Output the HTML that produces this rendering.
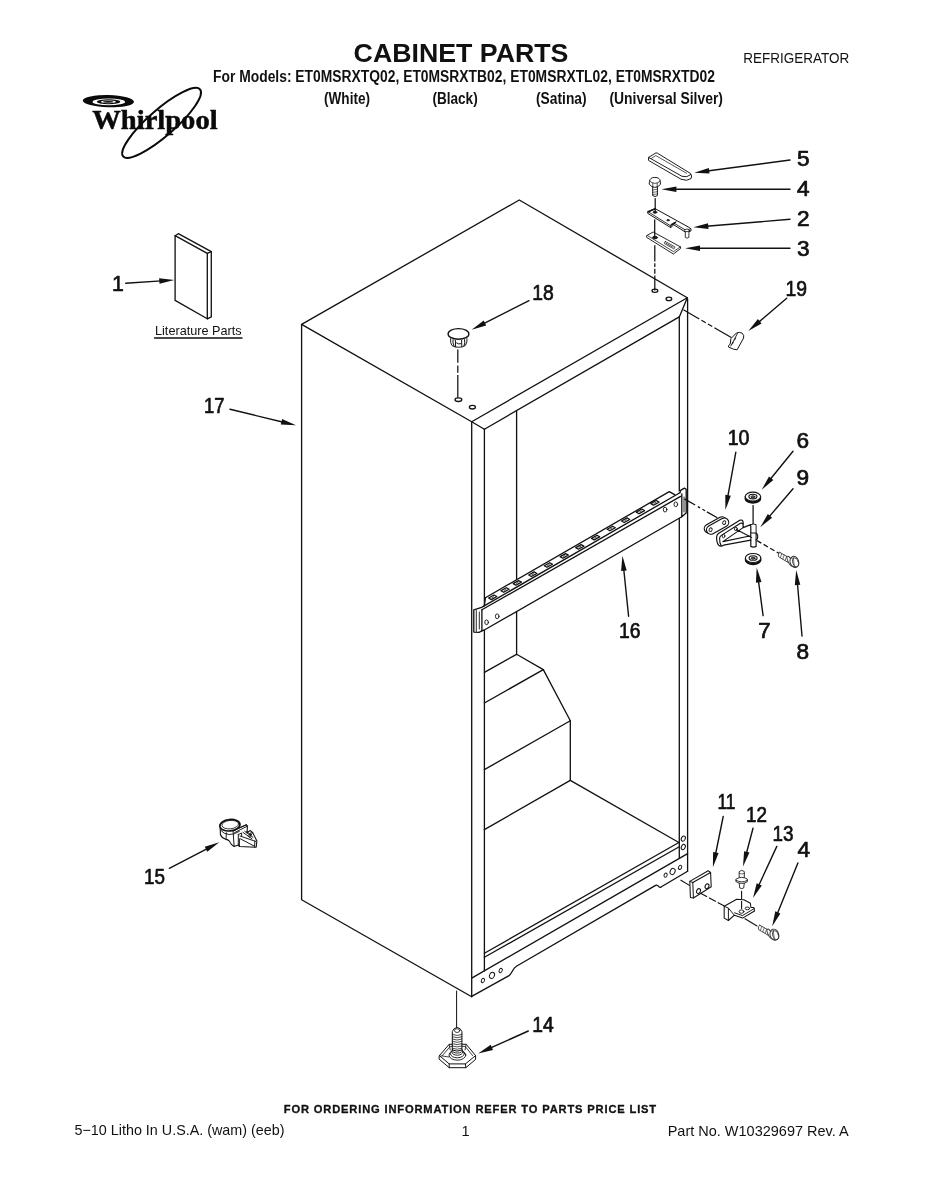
<!DOCTYPE html>
<html lang="en"><head><meta charset="utf-8"><title>Cabinet Parts</title>
<style>
html,body{margin:0;padding:0;background:#fff;}
body{width:927px;height:1200px;overflow:hidden;position:relative;font-family:"Liberation Sans",sans-serif;}
svg{position:absolute;left:0;top:0;display:block;will-change:transform;opacity:0.999}
svg text{font-family:"Liberation Sans",sans-serif;fill:#111;stroke:none}
.lb{font-family:"Liberation Sans",sans-serif;stroke:#111 !important;stroke-width:0.7px;}
</style></head><body>
<svg width="927" height="1200" viewBox="0 0 927 1200" fill="none" stroke="#111" stroke-linecap="round" stroke-linejoin="round">
<text x="353.6" y="61.5" font-size="26" font-weight="bold" textLength="214.8" lengthAdjust="spacingAndGlyphs">CABINET PARTS</text>
<text x="743.3" y="62.6" font-size="13.9" textLength="106" lengthAdjust="spacingAndGlyphs">REFRIGERATOR</text>
<text x="213" y="82.4" font-size="16.8" font-weight="bold" textLength="502" lengthAdjust="spacingAndGlyphs">For Models: ET0MSRXTQ02, ET0MSRXTB02, ET0MSRXTL02, ET0MSRXTD02</text>
<text x="324" y="103.5" font-size="16.8" font-weight="bold" textLength="46" lengthAdjust="spacingAndGlyphs">(White)</text>
<text x="432.4" y="103.5" font-size="16.8" font-weight="bold" textLength="45.3" lengthAdjust="spacingAndGlyphs">(Black)</text>
<text x="536" y="103.5" font-size="16.8" font-weight="bold" textLength="50.6" lengthAdjust="spacingAndGlyphs">(Satina)</text>
<text x="609.4" y="103.5" font-size="16.8" font-weight="bold" textLength="113.6" lengthAdjust="spacingAndGlyphs">(Universal Silver)</text>
<text x="283.8" y="1112.7" font-size="10.6" font-weight="bold" textLength="373.2" lengthAdjust="spacingAndGlyphs" letter-spacing="0.8" style="stroke:#111;stroke-width:0.3px">FOR ORDERING INFORMATION REFER TO PARTS PRICE LIST</text>
<text x="74.5" y="1135.4" font-size="14.6" textLength="210" lengthAdjust="spacingAndGlyphs">5&#8722;10 Litho In U.S.A. (wam) (eeb)</text>
<text x="461.6" y="1135.5" font-size="14.6">1</text>
<text x="667.7" y="1135.5" font-size="14.6" textLength="181" lengthAdjust="spacingAndGlyphs">Part No. W10329697 Rev. A</text>
<path d="M301.6 324.4 L519.3 200 L687.3 297.8 L471.7 421.7 Z" fill="none" stroke-width="1.32" />
<path d="M301.6 324.4 L301.6 899.7 L471.7 996.7" fill="none" stroke-width="1.32" />
<line x1="471.7" y1="421.7" x2="471.7" y2="996.7" stroke-width="1.32" />
<line x1="471.7" y1="421.7" x2="484.4" y2="429.2" stroke-width="1.32" />
<line x1="687.3" y1="297.8" x2="679.3" y2="316.9" stroke-width="1.32" />
<line x1="484.4" y1="429.2" x2="679.3" y2="316.9" stroke-width="1.32" />
<line x1="484.4" y1="429.2" x2="484.4" y2="970.8" stroke-width="1.32" />
<line x1="516.6" y1="410.8" x2="516.6" y2="654.3" stroke-width="1.32" />
<line x1="679.3" y1="316.9" x2="679.3" y2="858.2" stroke-width="1.32" />
<line x1="687.6" y1="299" x2="687.6" y2="871.3" stroke-width="1.32" />
<line x1="484.4" y1="672.3" x2="516.6" y2="654.3" stroke-width="1.32" />
<line x1="516.6" y1="654.3" x2="543.3" y2="669.6" stroke-width="1.32" />
<line x1="543.3" y1="669.6" x2="484.4" y2="703" stroke-width="1.32" />
<line x1="543.3" y1="669.6" x2="570.3" y2="720.8" stroke-width="1.32" />
<line x1="570.3" y1="720.8" x2="484.4" y2="769.6" stroke-width="1.32" />
<line x1="570.3" y1="720.8" x2="570.3" y2="780.4" stroke-width="1.32" />
<line x1="570.3" y1="780.4" x2="484.4" y2="829.6" stroke-width="1.32" />
<line x1="570.3" y1="780.4" x2="679.3" y2="842.7" stroke-width="1.32" />
<line x1="484.4" y1="953.3" x2="679.3" y2="842.3" stroke-width="1.32" />
<line x1="484.4" y1="957.3" x2="679.3" y2="846.7" stroke-width="1.32" />
<path d="M471.7 996.4 L508.6 975.9 C512 974 512.4 968.6 516.4 966.3 L655.6 885.4 Q657.4 884.6 658.6 886.4 Q659.6 887.8 661.4 886.8 L687.6 871.3" fill="none" stroke-width="1.32" />
<line x1="471.7" y1="978.1" x2="687.6" y2="853.6" stroke-width="1.32" />
<ellipse cx="482.9" cy="980.5" rx="1.5" ry="2.2" fill="none" stroke-width="0.95" transform="rotate(25 482.9 980.5)" />
<ellipse cx="492" cy="975.4" rx="2.4" ry="3.2" fill="none" stroke-width="0.95" transform="rotate(25 492 975.4)" />
<ellipse cx="500.7" cy="970.5" rx="1.5" ry="2.2" fill="none" stroke-width="0.95" transform="rotate(25 500.7 970.5)" />
<ellipse cx="665.6" cy="875.2" rx="1.5" ry="2.2" fill="none" stroke-width="0.95" transform="rotate(25 665.6 875.2)" />
<ellipse cx="672.6" cy="871.5" rx="2.4" ry="3.2" fill="none" stroke-width="0.95" transform="rotate(25 672.6 871.5)" />
<ellipse cx="680.1" cy="867.3" rx="1.5" ry="2.2" fill="none" stroke-width="0.95" transform="rotate(25 680.1 867.3)" />
<ellipse cx="683.3" cy="838.6" rx="1.9" ry="2.7" fill="none" stroke-width="1.0" transform="rotate(25 683.3 838.6)" />
<ellipse cx="683.3" cy="847.0" rx="1.9" ry="2.7" fill="none" stroke-width="1.0" transform="rotate(25 683.3 847.0)" />
<ellipse cx="458.4" cy="399.7" rx="3.4" ry="1.8" fill="none" stroke-width="1.32" />
<ellipse cx="472.4" cy="407.2" rx="3.0" ry="1.8" fill="none" stroke-width="1.32" />
<ellipse cx="654.9" cy="290.8" rx="2.9" ry="1.6" fill="none" stroke-width="1.32" />
<ellipse cx="668.9" cy="298.9" rx="2.8" ry="1.7" fill="none" stroke-width="1.32" />
<path d="M485.4 597.8 L669.3 491.6 L674.6 494.6 L680.6 490.4 L684.4 488.1 L686.2 489.2 L686.2 513 L681.8 516.8 L483.9 630.2 L480 632.3 L473.8 632.1 L473.8 609.8 L481.6 607.5 L484.2 605.8 Z" fill="#fff" stroke-width="0" stroke="none"/>
<path d="M485.4 597.8 L669.3 491.6 L674.6 494.6" fill="none" stroke-width="1.32" />
<line x1="485.4" y1="597.8" x2="484.4" y2="605.6" stroke-width="1.32" />
<line x1="484.2" y1="605.9" x2="679.9" y2="492.7" stroke-width="1.32" />
<line x1="481.9" y1="609.8" x2="680.6" y2="496.4" stroke-width="1.32" />
<line x1="483.9" y1="630.2" x2="681.8" y2="516.8" stroke-width="1.32" />
<path d="M481.9 609.8 L481.9 630.8 L479 632.3 L473.8 632.1 L473.8 609.8 L481.6 607.4 L484.2 605.9" fill="none" stroke-width="1.32" />
<line x1="476.3" y1="610.5" x2="476.3" y2="631.5" stroke-width="0.9" />
<line x1="479.3" y1="612" x2="479.3" y2="629" stroke-width="0.9" />
<line x1="483.9" y1="630.2" x2="481.9" y2="630.8" stroke-width="1.32" />
<path d="M679.9 492.7 L680.6 490.4 L684.4 488.1 L686.2 489.2 L686.2 513 L681.8 516.8 L681.8 494" fill="none" stroke-width="1.32" />
<line x1="684" y1="497" x2="684" y2="512" stroke-width="0.9" />
<ellipse cx="486.6" cy="622.3" rx="1.8" ry="2.4" fill="none" stroke-width="0.9" />
<ellipse cx="497.2" cy="616.3" rx="1.8" ry="2.4" fill="none" stroke-width="0.9" />
<ellipse cx="665.1" cy="509.6" rx="1.8" ry="2.4" fill="none" stroke-width="0.9" />
<ellipse cx="675.8" cy="504.3" rx="1.8" ry="2.4" fill="none" stroke-width="0.9" />
<path d="M488.6 598.0 L494.0 595.0 L496.8 596.5 L491.4 599.6 Z" fill="none" stroke-width="1.25" />
<line x1="491.8" y1="597.8" x2="493.6" y2="596.8" stroke-width="0.7" />
<path d="M500.9 590.8 L506.3 587.7 L509.1 589.2 L503.7 592.3 Z" fill="none" stroke-width="1.25" />
<line x1="504.1" y1="590.5" x2="505.9" y2="589.5" stroke-width="0.7" />
<path d="M513.2 583.6 L518.6 580.6 L521.4 582.1 L515.9 585.2 Z" fill="none" stroke-width="1.25" />
<line x1="516.4" y1="583.4" x2="518.2" y2="582.4" stroke-width="0.7" />
<path d="M528.7 575.0 L534.1 571.9 L536.9 573.5 L531.4 576.5 Z" fill="none" stroke-width="1.25" />
<line x1="531.9" y1="574.7" x2="533.7" y2="573.7" stroke-width="0.7" />
<path d="M544.3 565.8 L549.8 562.7 L552.5 564.2 L547.0 567.3 Z" fill="none" stroke-width="1.25" />
<line x1="547.5" y1="565.5" x2="549.3" y2="564.5" stroke-width="0.7" />
<path d="M560.1 556.6 L565.6 553.6 L568.3 555.1 L562.9 558.2 Z" fill="none" stroke-width="1.25" />
<line x1="563.3" y1="556.4" x2="565.1" y2="555.4" stroke-width="0.7" />
<path d="M575.7 547.6 L581.1 544.6 L583.9 546.1 L578.4 549.2 Z" fill="none" stroke-width="1.25" />
<line x1="578.9" y1="547.4" x2="580.7" y2="546.4" stroke-width="0.7" />
<path d="M591.5 538.4 L597.0 535.3 L599.7 536.9 L594.2 539.9 Z" fill="none" stroke-width="1.25" />
<line x1="594.7" y1="538.1" x2="596.5" y2="537.1" stroke-width="0.7" />
<path d="M607.1 529.2 L612.6 526.2 L615.3 527.8 L609.9 530.8 Z" fill="none" stroke-width="1.25" />
<line x1="610.3" y1="529.0" x2="612.1" y2="528.0" stroke-width="0.7" />
<path d="M621.5 521.0 L627.0 517.9 L629.7 519.5 L624.2 522.5 Z" fill="none" stroke-width="1.25" />
<line x1="624.7" y1="520.7" x2="626.5" y2="519.7" stroke-width="0.7" />
<path d="M636.3 512.1 L641.8 509.0 L644.5 510.6 L639.0 513.7 Z" fill="none" stroke-width="1.25" />
<line x1="639.5" y1="511.9" x2="641.3" y2="510.9" stroke-width="0.7" />
<path d="M650.8 503.6 L656.2 500.5 L659.0 502.1 L653.5 505.2 Z" fill="none" stroke-width="1.25" />
<line x1="654.0" y1="503.4" x2="655.8" y2="502.4" stroke-width="0.7" />
<text x="112" y="290.8" font-size="21.3" class="lb">1</text>
<text x="204" y="413.0" font-size="21.3" class="lb" textLength="20.5" lengthAdjust="spacingAndGlyphs">17</text>
<text x="532.3" y="300.2" font-size="21.3" class="lb" textLength="21.5" lengthAdjust="spacingAndGlyphs">18</text>
<text x="796.9" y="165.5" font-size="21.3" class="lb" textLength="12.6" lengthAdjust="spacingAndGlyphs">5</text>
<text x="796.9" y="196.4" font-size="21.3" class="lb" textLength="12.6" lengthAdjust="spacingAndGlyphs">4</text>
<text x="796.9" y="225.8" font-size="21.3" class="lb" textLength="12.6" lengthAdjust="spacingAndGlyphs">2</text>
<text x="796.9" y="255.8" font-size="21.3" class="lb" textLength="12.6" lengthAdjust="spacingAndGlyphs">3</text>
<text x="785.5" y="295.6" font-size="21.3" class="lb" textLength="21.5" lengthAdjust="spacingAndGlyphs">19</text>
<text x="727.7" y="445.4" font-size="21.3" class="lb" textLength="21.8" lengthAdjust="spacingAndGlyphs">10</text>
<text x="796.6" y="447.5" font-size="21.3" class="lb" textLength="12.6" lengthAdjust="spacingAndGlyphs">6</text>
<text x="796.6" y="484.5" font-size="21.3" class="lb" textLength="12.6" lengthAdjust="spacingAndGlyphs">9</text>
<text x="619" y="638.2" font-size="21.3" class="lb" textLength="21.5" lengthAdjust="spacingAndGlyphs">16</text>
<text x="758.2" y="637.8" font-size="21.3" class="lb" textLength="12.4" lengthAdjust="spacingAndGlyphs">7</text>
<text x="796.6" y="658.5" font-size="21.3" class="lb" textLength="12.6" lengthAdjust="spacingAndGlyphs">8</text>
<text x="717.5" y="809.1" font-size="21.3" class="lb" textLength="18" lengthAdjust="spacingAndGlyphs">11</text>
<text x="746" y="821.7" font-size="21.3" class="lb" textLength="21" lengthAdjust="spacingAndGlyphs">12</text>
<text x="772.5" y="841.1" font-size="21.3" class="lb" textLength="21" lengthAdjust="spacingAndGlyphs">13</text>
<text x="797.6" y="856.9" font-size="21.3" class="lb" textLength="12.6" lengthAdjust="spacingAndGlyphs">4</text>
<text x="144" y="883.5" font-size="21.3" class="lb" textLength="21" lengthAdjust="spacingAndGlyphs">15</text>
<text x="532.3" y="1032.2" font-size="21.3" class="lb" textLength="21.5" lengthAdjust="spacingAndGlyphs">14</text>
<line x1="125.7" y1="283.3" x2="161.3" y2="280.9" stroke-width="1.4"/>
<path d="M174.3 280.0 L159.5 283.8 L159.1 278.2 Z" fill="#111" stroke="none"/>
<line x1="230.0" y1="409.3" x2="283.4" y2="422.2" stroke-width="1.4"/>
<path d="M296.0 425.3 L280.8 424.5 L282.1 419.0 Z" fill="#111" stroke="none"/>
<line x1="529.0" y1="300.7" x2="483.2" y2="323.9" stroke-width="1.4"/>
<path d="M471.6 329.8 L483.7 320.5 L486.2 325.5 Z" fill="#111" stroke="none"/>
<line x1="790.0" y1="160.0" x2="707.2" y2="171.0" stroke-width="1.4"/>
<path d="M694.3 172.7 L708.8 168.0 L709.5 173.5 Z" fill="#111" stroke="none"/>
<line x1="790.0" y1="189.3" x2="674.4" y2="189.3" stroke-width="1.4"/>
<path d="M661.4 189.3 L676.4 186.5 L676.4 192.1 Z" fill="#111" stroke="none"/>
<line x1="790.0" y1="219.3" x2="706.3" y2="226.2" stroke-width="1.4"/>
<path d="M693.3 227.3 L708.0 223.3 L708.5 228.9 Z" fill="#111" stroke="none"/>
<line x1="790.0" y1="248.3" x2="698.0" y2="248.3" stroke-width="1.4"/>
<path d="M685.0 248.3 L700.0 245.5 L700.0 251.1 Z" fill="#111" stroke="none"/>
<line x1="786.7" y1="298.3" x2="758.2" y2="322.6" stroke-width="1.4"/>
<path d="M748.3 331.0 L757.9 319.1 L761.5 323.4 Z" fill="#111" stroke="none"/>
<line x1="735.8" y1="452.3" x2="727.7" y2="497.2" stroke-width="1.4"/>
<path d="M725.4 510.0 L725.3 494.7 L730.8 495.7 Z" fill="#111" stroke="none"/>
<line x1="793.0" y1="451.3" x2="769.9" y2="479.7" stroke-width="1.4"/>
<path d="M761.7 489.8 L769.0 476.4 L773.3 479.9 Z" fill="#111" stroke="none"/>
<line x1="793.0" y1="488.8" x2="768.6" y2="517.4" stroke-width="1.4"/>
<path d="M760.2 527.3 L767.8 514.1 L772.1 517.7 Z" fill="#111" stroke="none"/>
<line x1="628.6" y1="616.3" x2="623.7" y2="568.7" stroke-width="1.4"/>
<path d="M622.4 555.8 L626.7 570.4 L621.1 571.0 Z" fill="#111" stroke="none"/>
<line x1="763.1" y1="615.6" x2="758.4" y2="580.4" stroke-width="1.4"/>
<path d="M756.7 567.5 L761.5 582.0 L755.9 582.7 Z" fill="#111" stroke="none"/>
<line x1="802.0" y1="636.0" x2="797.4" y2="583.0" stroke-width="1.4"/>
<path d="M796.2 570.0 L800.3 584.7 L794.8 585.2 Z" fill="#111" stroke="none"/>
<line x1="723.2" y1="816.5" x2="715.5" y2="854.5" stroke-width="1.4"/>
<path d="M712.9 867.2 L713.1 851.9 L718.6 853.1 Z" fill="#111" stroke="none"/>
<line x1="753.0" y1="828.2" x2="746.3" y2="853.8" stroke-width="1.4"/>
<path d="M743.0 866.4 L744.1 851.2 L749.5 852.6 Z" fill="#111" stroke="none"/>
<line x1="776.8" y1="846.4" x2="758.4" y2="886.2" stroke-width="1.4"/>
<path d="M753.0 898.0 L756.7 883.2 L761.8 885.6 Z" fill="#111" stroke="none"/>
<line x1="797.9" y1="863.0" x2="777.1" y2="914.2" stroke-width="1.4"/>
<path d="M772.2 926.2 L775.3 911.3 L780.4 913.4 Z" fill="#111" stroke="none"/>
<line x1="169.3" y1="868.3" x2="207.8" y2="848.3" stroke-width="1.4"/>
<path d="M219.3 842.3 L207.3 851.7 L204.7 846.7 Z" fill="#111" stroke="none"/>
<line x1="528.3" y1="1031.0" x2="490.1" y2="1048.2" stroke-width="1.4"/>
<path d="M478.2 1053.5 L490.7 1044.8 L493.0 1049.9 Z" fill="#111" stroke="none"/>
<path d="M175.1 235.7 L175.1 300.4 L207.3 318.8 L207.3 253.3 Z" fill="none" stroke-width="1.32" />
<path d="M175.1 235.7 L178.3 233.7 L211.3 251.7 L211.3 316.9 L207.3 318.8" fill="none" stroke-width="1.32" />
<line x1="207.3" y1="253.3" x2="211.3" y2="251.7" stroke-width="1.32" />
<text x="155" y="335" font-size="13.2" textLength="86.7" lengthAdjust="spacingAndGlyphs">Literature Parts</text>
<line x1="154.5" y1="338" x2="242" y2="338" stroke-width="1.3" />
<path d="M655.6 153.1 L648.6 157.4 L648.5 160.4 L681 179.2 Q687 181.6 691 178.6 Q692.6 176 690.4 173.4 L657.6 153.3 Z" fill="none" stroke-width="0.95" />
<path d="M648.6 157.4 L682 176.3 Q687 178 690.8 174.6" fill="none" stroke-width="0.95" />
<path d="M651.5 158.3 L655.8 155.6 L686.5 173.2" fill="none" stroke-width="0.7" />
<path d="M649.6 181 Q650 177.4 654.8 177.4 Q659.8 177.4 660.2 181 L660.4 184.4 Q658 187.4 654.9 187.4 Q651.6 187.4 649.4 184.4 Z" fill="none" stroke-width="0.95" />
<path d="M649.6 181 Q652 183.4 654.9 183.4 Q658 183.4 660.2 181 M652.8 183 L652.8 187 M657.2 183 L657.2 187" fill="none" stroke-width="0.7" />
<path d="M652.7 187.2 L652.7 195.6 Q655 197.4 657.4 195.6 L657.4 187.2" fill="none" stroke-width="0.95" />
<path d="M652.7 190 L657.4 189.2 M652.7 192.4 L657.4 191.6 M652.7 194.6 L657.4 193.8" fill="none" stroke-width="0.6" />
<path d="M648.1 211.7 L655.2 208.7 L689.8 227.8 Q691.5 229 691 230.8 L686.6 232.8 L673.7 224.8 L670.7 227.6 L648.1 213.6 Z" fill="#fff" stroke-width="1.0" />
<path d="M648.1 211.7 L670.4 225.7 L676.2 222 M670.4 225.7 L670.7 227.6 M673.7 224.8 L674.2 223.3 M674.2 223.3 L686.4 230.6 L690.8 228.6" fill="none" stroke-width="0.85" />
<path d="M648.1 211.7 L655.2 208.7" fill="none" stroke-width="1.5" />
<path d="M671.4 224.8 L675.4 222.4" fill="none" stroke-width="1.6" />
<ellipse cx="655" cy="212.3" rx="1.9" ry="1.0" fill="#222" stroke-width="0.8" />
<ellipse cx="668" cy="220.2" rx="1.3" ry="0.7" fill="#444" stroke-width="0.8" />
<path d="M685.3 232 L685.3 237.4 Q687.1 239 688.9 237.4 L688.9 231.4" fill="#fff" stroke-width="0.85" />
<ellipse cx="687.1" cy="230.4" rx="2.4" ry="1.3" fill="#fff" stroke-width="0.85" />
<line x1="655.2" y1="198.5" x2="655.2" y2="212.4" stroke-width="1.25" />
<path d="M647 235.4 L653.2 232 L680.5 246.9 L680.5 248.6 L673.4 254 L647 237.6 Z" fill="#fff" stroke-width="0.9" />
<path d="M647.6 235.6 L673.4 251.6 L680.5 246.9" fill="none" stroke-width="0.75" />
<ellipse cx="655" cy="237.6" rx="2.6" ry="1.3" fill="#222" stroke-width="0.8" />
<path d="M665.6 241.6 L674.8 246.8 Q675.4 248.4 673.6 248.8 L664.4 243.6 Q663.8 242 665.6 241.6 Z M666 243.2 L673 247.2" fill="none" stroke-width="0.7" />
<line x1="654.7" y1="219.8" x2="654.7" y2="237.4" stroke-width="1.25" />
<path d="M654.8 245.2 L654.8 290.6" stroke-width="1.25" stroke-dasharray="16.2 1.8 3.7 1.8 5 1.8 30" stroke-linecap="butt"/>
<path d="M450.6 338.6 Q450 343 452 345.6 Q455 347.6 458.6 347.2 Q463 347.4 465.4 345.4 Q467.6 342 467 338.6" fill="#fff" stroke-width="0.95" />
<path d="M453 339.6 Q452.4 343 454 346 M455.4 340.4 L455.6 346.6 M461.6 340.4 L461.8 346.6 M464.6 339.6 Q465.4 343 464 346 M456.6 343 Q458.6 344.6 460.6 343.8" fill="none" stroke-width="1.0" />
<ellipse cx="458.5" cy="333.9" rx="10.4" ry="5.3" fill="#fff" stroke-width="1.35" />
<path d="M457.8 349.4 L457.8 397.8" stroke-width="1.25" stroke-dasharray="13.3 2.9 7.1 2.3 30" stroke-linecap="butt"/>
<path d="M731.2 338.3 L736.4 333 Q739.4 331.6 742.2 333.2 Q744.4 335.4 743.6 338 L737.1 349.8 L733.6 349.2 L728.4 347 Q728.4 345 729.8 344.4 Z" fill="#fff" stroke-width="1.0" />
<path d="M737.4 333.6 L730.8 346 M735.6 338 L734.6 340 M733.4 342 L732.4 344" fill="none" stroke-width="0.9" />
<path d="M683.4 309.8 L731.3 337.5" stroke-width="1.25" stroke-dasharray="18.3 2.5 5 2.5 5 2.5 30" stroke-linecap="butt"/>
<path d="M745.1999999999999 496.6 L745.1999999999999 498.6 A7.7 4.6 0 0 0 760.6 498.6 L760.6 496.6" fill="#fff" stroke-width="1.1" />
<path d="M745.6 499.0 A7.7 4.6 0 0 0 760.1999999999999 499.0" fill="none" stroke-width="1.9" />
<ellipse cx="752.9" cy="496.6" rx="7.7" ry="4.5" fill="#fff" stroke-width="1.1" />
<ellipse cx="752.9" cy="496.6" rx="4.0" ry="2.3" fill="none" stroke-width="1.1" />
<ellipse cx="752.9" cy="496.8" rx="1.9" ry="1.0" fill="#777" stroke-width="0.9" />
<path d="M745.4 558.0 L745.4 560.0 A7.7 4.6 0 0 0 760.8000000000001 560.0 L760.8000000000001 558.0" fill="#fff" stroke-width="1.1" />
<path d="M745.8000000000001 560.4 A7.7 4.6 0 0 0 760.4 560.4" fill="none" stroke-width="1.9" />
<ellipse cx="753.1" cy="558.0" rx="7.7" ry="4.5" fill="#fff" stroke-width="1.1" />
<ellipse cx="753.1" cy="558.0" rx="4.0" ry="2.3" fill="none" stroke-width="1.1" />
<ellipse cx="753.1" cy="558.2" rx="1.9" ry="1.0" fill="#777" stroke-width="0.9" />
<line x1="753.1" y1="505.5" x2="753.1" y2="524" stroke-width="1.25" />
<path d="M684.4 498.9 L717.3 517.8" stroke-width="1.25" stroke-dasharray="12.4 3.1 2.6 2.7 3 2.2 30" stroke-linecap="butt"/>
<line x1="708.6999999999999" y1="528.5999999999999" x2="722.0999999999999" y2="521.1999999999999" stroke-width="10.0" />
<line x1="708.6999999999999" y1="528.5999999999999" x2="722.0999999999999" y2="521.1999999999999" stroke-width="7.6" stroke="#fff"/>
<line x1="710.9" y1="529.8" x2="724.3" y2="522.4" stroke-width="10.0" />
<line x1="710.9" y1="529.8" x2="724.3" y2="522.4" stroke-width="7.6" stroke="#fff"/>
<ellipse cx="710.6" cy="529.7" rx="1.5" ry="1.9" fill="none" stroke-width="0.9" transform="rotate(25 710.6 529.7)" />
<ellipse cx="724.2" cy="522.6" rx="1.5" ry="1.9" fill="none" stroke-width="0.9" transform="rotate(25 724.2 522.6)" />
<path d="M716.6 537 Q717 534.6 718.4 533.6 L739.4 520.4 Q742.2 519.2 743.1 521.6 L743.1 527.6 L750.8 524.6 L750.8 533 L756.1 533 Q758.4 535 757.4 538.6 L756.1 540 L756.1 546.4 Q753.4 547.8 750.8 546.4 L750.8 540.2 L723.6 545.2 Q721 547 718.6 545.2 Q716.6 543 716.6 537 Z" fill="#fff" stroke-width="1.2" />
<path d="M719.6 538.2 Q719.8 536.4 721 535.6 L740.4 523.2 Q742.2 523 743.1 524 M719.6 538.2 Q719.4 543 721.2 545.6 M722.9 541.6 L750.8 535.8 M722.9 541.6 L743.1 527.6 M736.5 529.4 L751.6 537.4 M750.8 533 L750.8 540.2 M756.1 533 L756.1 540" fill="none" stroke-width="1.1" />
<path d="M750.8 524.6 Q753.4 523.4 756.1 524.6 L756.1 533" fill="#fff" stroke-width="0.95" />
<ellipse cx="723.5" cy="536" rx="1.4" ry="1.8" fill="none" stroke-width="0.9" />
<ellipse cx="735.9" cy="528.9" rx="1.4" ry="1.8" fill="none" stroke-width="0.9" />
<path d="M757 540.6 L779.4 553.6" stroke-width="1.25" stroke-dasharray="5 2.6" stroke-linecap="butt"/>
<g transform="translate(0 0)" stroke="#333">
<path d="M779.8 552.4 L790 558.2 L788 562.4 L778.4 556.6 Q777.6 553.6 779.8 552.4 Z" fill="#fff" stroke-width="0.85" />
<path d="M781.8 553.6 L780.4 557.6 M784.2 555 L782.8 559 M786.6 556.4 L785.2 560.4" fill="none" stroke-width="0.7" />
<ellipse cx="789.6" cy="560.8" rx="1.7" ry="4.9" fill="#fff" stroke-width="0.9" transform="rotate(-24 789.6 560.8)" />
<ellipse cx="794.4" cy="561.9" rx="4.3" ry="5.7" fill="#fff" stroke-width="0.95" transform="rotate(-18 794.4 561.9)" />
<ellipse cx="795.6" cy="562.4" rx="2.8" ry="4.7" fill="none" stroke-width="0.8" transform="rotate(-18 795.6 562.4)" />
<path d="M790.6 558.4 L793.4 558 M791.4 566 L794.2 566.8 M793.4 558 L794.2 566.8" fill="none" stroke-width="0.7" />
</g>
<line x1="680.9" y1="880.2" x2="689.4" y2="885.4" stroke-width="1.1" />
<path d="M692.8 882.5 L710.6 872.5 L711.2 886.7 L693.4 898 L690.4 897.6 L689.8 881.4 L708.2 870.7 L710.6 872.5" fill="#fff" stroke-width="1.05" />
<path d="M692.8 882.5 L693.4 898 M692.8 882.5 L689.8 881.4" fill="none" stroke-width="1.0" />
<ellipse cx="698.5" cy="891.1" rx="1.8" ry="2.5" fill="none" stroke-width="1.05" transform="rotate(25 698.5 891.1)" />
<ellipse cx="707" cy="886.3" rx="1.8" ry="2.5" fill="none" stroke-width="1.05" transform="rotate(25 707 886.3)" />
<path d="M700.5 893.2 L723.9 905.8" stroke-width="1.1" stroke-dasharray="7 3"/>
<path d="M739.2 877.6 L739.2 871.6 Q741.7 869 744.3 871.6 L744.3 877.6 M739.2 883.2 L739.8 888 Q741.7 889.2 743.7 888 L744.3 883.2" fill="none" stroke-width="0.85" />
<path d="M736.2 879 Q741.7 875.6 747.3 879 L747.3 881.8 Q741.7 885.2 736.2 881.8 Z M736.2 880.4 Q741.7 883.6 747.3 880.4" fill="#fff" stroke-width="0.85" />
<path d="M739.2 873.4 Q741.7 874.8 744.3 873.4" fill="none" stroke-width="0.6" />
<path d="M724.2 906.3 L736.7 899.2 L743.8 899.8 L750.4 903.3 L750.9 907.5 L753.9 907.5 L754.5 911 L742.6 918.1 L734.3 915.2 L728.4 920.5 L724.2 918.1 Z" fill="#fff" stroke-width="1.05" />
<path d="M724.2 906.3 L728.4 908.1 L728.4 920.5 M728.4 908.1 L734.3 915.2 M734.6 912.8 L742.4 915.6 L754.2 908.6" fill="none" stroke-width="0.95" />
<ellipse cx="741.5" cy="911.6" rx="2.4" ry="1.7" fill="none" stroke-width="0.9" />
<ellipse cx="747.4" cy="908.4" rx="2.2" ry="1.4" fill="none" stroke-width="0.9" />
<line x1="745" y1="918.7" x2="757" y2="926" stroke-width="1.1" />
<path d="M741.6 891.4 L741.6 911" stroke-width="1.1" stroke-dasharray="7 3"/>
<g transform="translate(-20 372.8)" stroke="#333">
<path d="M779.8 552.4 L790 558.2 L788 562.4 L778.4 556.6 Q777.6 553.6 779.8 552.4 Z" fill="#fff" stroke-width="0.85" />
<path d="M781.8 553.6 L780.4 557.6 M784.2 555 L782.8 559 M786.6 556.4 L785.2 560.4" fill="none" stroke-width="0.7" />
<ellipse cx="789.6" cy="560.8" rx="1.7" ry="4.9" fill="#fff" stroke-width="0.9" transform="rotate(-24 789.6 560.8)" />
<ellipse cx="794.4" cy="561.9" rx="4.3" ry="5.7" fill="#fff" stroke-width="0.95" transform="rotate(-18 794.4 561.9)" />
<ellipse cx="795.6" cy="562.4" rx="2.8" ry="4.7" fill="none" stroke-width="0.8" transform="rotate(-18 795.6 562.4)" />
<path d="M790.6 558.4 L793.4 558 M791.4 566 L794.2 566.8 M793.4 558 L794.2 566.8" fill="none" stroke-width="0.7" />
</g>
<line x1="456.6" y1="991" x2="456.6" y2="1027.5" stroke-width="1.0" />
<path d="M439.4 1055.6 L449.2 1044.3 L466.2 1044.3 L475.6 1055.6 L475.6 1059.4 L465.8 1067.7 L449.2 1067.7 L439.4 1059.4 Z" fill="#fff" stroke-width="1.0" />
<path d="M439.4 1055.6 L449.2 1063.9 L465.4 1063.9 L475.6 1055.6 M449.2 1063.9 L449.2 1067.7 M465.4 1063.9 L465.8 1067.7" fill="none" stroke-width="1.0" />
<path d="M442.4 1055.6 L450.2 1046.4 L465.2 1046.4 L472.6 1055.6 M449.2 1044.3 L450.2 1050 M466.2 1044.3 L465 1050 M441 1055.8 L449 1057" fill="none" stroke-width="0.8" />
<ellipse cx="457.4" cy="1055" rx="8.4" ry="5.2" fill="#fff" stroke-width="0.9" />
<ellipse cx="457.4" cy="1053.6" rx="7.0" ry="4.2" fill="#fff" stroke-width="0.9" />
<ellipse cx="457.4" cy="1052" rx="5.6" ry="3.2" fill="#fff" stroke-width="0.9" />
<ellipse cx="457.4" cy="1050.4" rx="4.9" ry="2.6" fill="#fff" stroke-width="0.9" />
<path d="M452.3 1050 L452.3 1031.6 Q453.4 1028 457.1 1027.4 Q460.8 1028 461.9 1031.6 L461.9 1050 Q457.1 1052.4 452.3 1050 Z" fill="#fff" stroke-width="1.0" />
<ellipse cx="457.1" cy="1030.6" rx="2.6" ry="1.9" fill="none" stroke-width="0.8" />
<path d="M452.3 1034.5 Q457.1 1036.5 461.9 1034.5" fill="none" stroke-width="0.75" />
<path d="M452.3 1036.8 Q457.1 1038.8 461.9 1036.8" fill="none" stroke-width="0.75" />
<path d="M452.3 1039.1 Q457.1 1041.1 461.9 1039.1" fill="none" stroke-width="0.75" />
<path d="M452.3 1041.4 Q457.1 1043.4 461.9 1041.4" fill="none" stroke-width="0.75" />
<path d="M452.3 1043.7 Q457.1 1045.7 461.9 1043.7" fill="none" stroke-width="0.75" />
<path d="M452.3 1046 Q457.1 1048.0 461.9 1046" fill="none" stroke-width="0.75" />
<path d="M452.3 1048.3 Q457.1 1050.3 461.9 1048.3" fill="none" stroke-width="0.75" />
<path d="M220.1 826 L220.4 834.5 Q221.4 837.6 225.3 839.1 Q228.2 839.8 229.2 840.9 Q231 845 234.1 846.5 L238.3 845.1 L239.4 846.5 L256.2 847.2 L256.9 840.9 L252.6 832.6 L250.4 830.6 L247.1 832.4 L247.4 826.1 L246.4 824.7 L239 828 Z" fill="#fff" stroke-width="1.1" />
<path d="M233.1 831 L234.1 846.5 M226.4 832.8 L226 839.2 M238.3 834.5 L238.3 845.1 M233.1 831 L246.4 824.7 M234.6 832.6 L247.4 826.1 M238.3 834.5 L241.6 833 L241.6 836 M240 836 L255.6 841.4 M239.4 839 L239.4 846.5 M254.8 841 L254.6 847 M240 838.6 L254 846 M243 832.4 L252 838.8 M244.8 831.4 L253 837.4 M246.6 831.6 L251.4 835 M248.4 836.4 L251.6 831.8 M249.6 837.4 L252.4 833" fill="none" stroke-width="0.95" />
<ellipse cx="229.9" cy="825.2" rx="10.1" ry="5.7" fill="#fff" stroke-width="1.7" transform="rotate(-6 229.9 825.2)" />
<ellipse cx="230.3" cy="824.6" rx="8.4" ry="4.2" fill="none" stroke-width="0.8" transform="rotate(-6 230.3 824.6)" />
<path d="M220.3 830 Q228 838.6 239.4 831.4" fill="none" stroke-width="0.9" />
<g stroke="none">
<ellipse cx="108.4" cy="101.2" rx="25.6" ry="6.1" fill="#0a0a0a" transform="rotate(1.5 108.4 101.2)"/>
<ellipse cx="108.8" cy="101.9" rx="16.3" ry="3.3" fill="#fff"/>
<ellipse cx="108.6" cy="101.8" rx="11.8" ry="2.5" fill="#0a0a0a"/>
<ellipse cx="108.4" cy="101.8" rx="7.6" ry="1.4" fill="#fff"/>
<ellipse cx="108.2" cy="101.8" rx="5.2" ry="0.9" fill="#0a0a0a"/>
</g>
<text x="92.3" y="128.5" font-size="28.3" font-weight="bold" textLength="125.3" lengthAdjust="spacingAndGlyphs" style="font-family:'Liberation Serif',serif;fill:#0a0a0a;stroke:#0a0a0a;stroke-width:0.5px">Whirlpool</text>
<ellipse cx="161.6" cy="122.9" rx="51" ry="13.2" transform="rotate(-41.1 161.6 122.9)" stroke-width="2.0" stroke="#0a0a0a"/>
</svg>
</body></html>
